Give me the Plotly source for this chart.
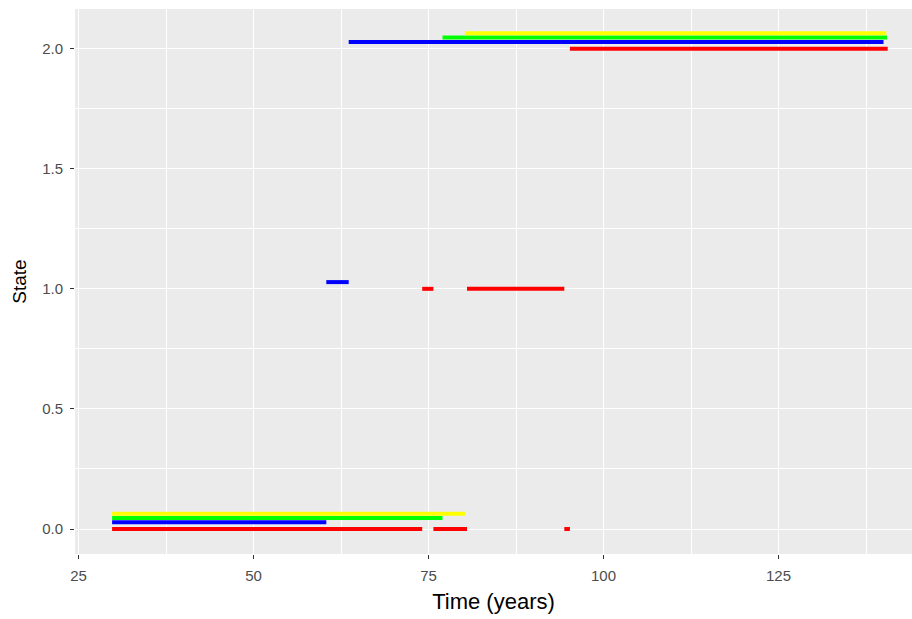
import plotly.graph_objects as go

# Segment data: start time, end time, state for each series
red_start = [29.8, 74.1, 75.7, 80.5, 94.4, 95.2]
red_end = [74.1, 75.7, 80.5, 94.4, 95.2, 140.6]
red_state = [0, 1, 0, 1, 0, 2]

blue_start = [29.8, 60.4, 63.6]
blue_end = [60.4, 63.6, 140.0]
blue_state = [0, 1, 2]

green_start = [29.8, 77.0]
green_end = [77.0, 140.5]
green_state = [0, 2]

yellow_start = [29.8, 80.2]
yellow_end = [80.2, 140.4]
yellow_state = [0, 2]

series = [
    ("red", "#FF0000", 0.0, red_start, red_end, red_state),
    ("blue", "#0000FF", 0.028, blue_start, blue_end, blue_state),
    ("green", "#00FF00", 0.046, green_start, green_end, green_state),
    ("yellow", "#FFFF00", 0.064, yellow_start, yellow_end, yellow_state),
]

fig = go.Figure()
for name, color, off, s, e, st in series:
    xs, ys = [], []
    for a, b, k in zip(s, e, st):
        xs += [a, b, None]
        ys += [k + off, k + off, None]
    fig.add_trace(go.Scatter(x=xs, y=ys, mode="lines", name=name,
                             line=dict(color=color, width=4),
                             showlegend=False, hoverinfo="skip"))

axis_common = dict(
    showgrid=True, gridcolor="white", gridwidth=1.1,
    zeroline=False, showline=False,
    ticks="outside", ticklen=4, tickwidth=1.1, tickcolor="#333333",
    tickfont=dict(family="Liberation Sans, Arial, sans-serif", size=15, color="#4D4D4D"),
)

fig.update_layout(
    width=912, height=619,
    margin=dict(l=75, r=0, t=9, b=65),
    paper_bgcolor="white", plot_bgcolor="#EBEBEB",
    font=dict(family="Liberation Sans, Arial, sans-serif"),
    xaxis=dict(range=[24.5, 144.07], tickmode="array", tickvals=[25, 50, 75, 100, 125],
               ticktext=["25", "50", "75", "100", "125"],
               minor=dict(dtick=12.5, tick0=0, showgrid=True, gridcolor="white", gridwidth=0.55, ticks=""),
               ticklabelstandoff=4,
               title=dict(text="Time (years)", font=dict(size=22, color="black"), standoff=10),
               **axis_common),
    yaxis=dict(range=[-0.104, 2.165], tickmode="array", tickvals=[0, 0.5, 1.0, 1.5, 2.0],
               ticktext=["0.0", "0.5", "1.0", "1.5", "2.0"],
               minor=dict(dtick=0.25, tick0=0, showgrid=True, gridcolor="white", gridwidth=0.55, ticks=""),
               ticklabelstandoff=4,
               title=dict(text="State", font=dict(size=19, color="black"), standoff=10),
               **axis_common),
)

fig.write_html("out.html")
